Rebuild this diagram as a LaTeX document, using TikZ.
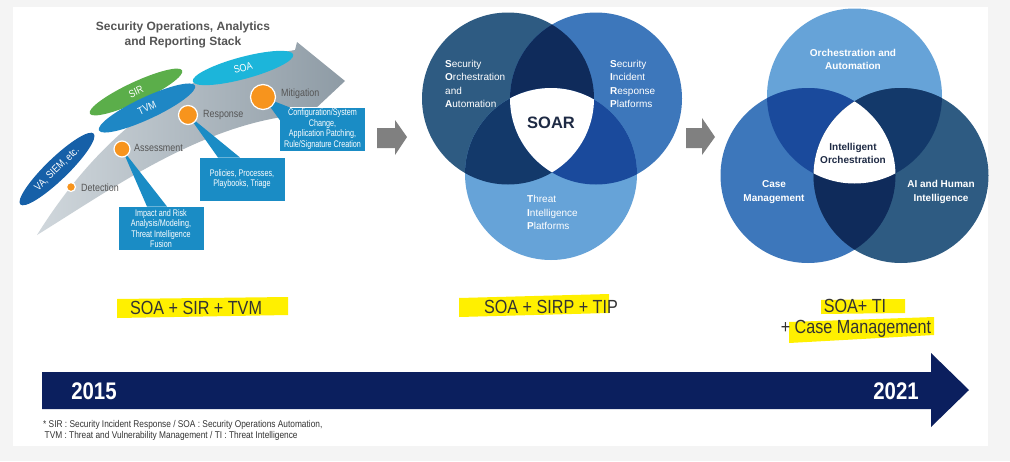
\documentclass[tikz,border=0pt]{standalone}
\usepackage{xcolor}
\usepackage{fontspec}
\usepackage{tikz}
\usetikzlibrary{shapes.geometric,positioning}
\setmainfont{Liberation Sans}
\newfontfamily\narrowfont[FakeStretch=0.85]{Liberation Sans}
\newfontfamily\boxfont[FakeStretch=0.75]{Liberation Sans}
\definecolor{pagegray}{HTML}{F4F4F4}
\definecolor{textgray}{HTML}{555555}
\definecolor{textdark}{HTML}{333333}
\definecolor{soacyan}{HTML}{1CB5DA}
\definecolor{sirgreen}{HTML}{5BAE4A}
\definecolor{tvmblue}{HTML}{1E87C5}
\definecolor{vablue}{HTML}{1660A8}
\definecolor{dotorange}{HTML}{F7941D}
\definecolor{calloutblue}{HTML}{1A8CC5}
\definecolor{arrowlight}{HTML}{D0D7DC}
\definecolor{arrowdark}{HTML}{8E9BA5}
\definecolor{stepgray}{HTML}{808080}
\definecolor{vslate}{HTML}{2E5B82}
\definecolor{vmid}{HTML}{3D77BB}
\definecolor{vlight}{HTML}{66A3D8}
\definecolor{vnavy}{HTML}{0F2B5B}
\definecolor{vdeep}{HTML}{13396A}
\definecolor{vroyal}{HTML}{1A4A9C}
\definecolor{soarnavy}{HTML}{1E2A44}
\definecolor{markyellow}{HTML}{FFF000}
\definecolor{timenavy}{HTML}{0B1F5E}

\begin{document}
\begin{tikzpicture}[x=1pt, y=-1pt,
  tag/.style={ellipse, inner sep=0pt, text=white,
              font=\narrowfont\fontsize{10.5}{12}\selectfont},
  stagedot/.style={circle, fill=dotorange, draw=white, line width=1.2pt,
                   inner sep=0pt},
  stagelabel/.style={anchor=west, inner sep=0pt, text=textgray,
                     font=\narrowfont\fontsize{10.5}{12}\selectfont},
  callout/.style={fill=calloutblue, draw=white, line width=0.6pt,
                  minimum width=86pt, minimum height=44pt, inner sep=0pt,
                  text=white, align=center,
                  font=\boxfont\fontsize{9.6}{10.5}\selectfont},
  pointer/.style={fill=calloutblue},
  stagearrow/.style={fill=stepgray},
  venntext/.style={inner sep=0pt, text=white, align=left,
                   font=\fontsize{10}{13.6}\selectfont},
  vennbold/.style={inner sep=0pt, text=white, align=center,
                   font=\bfseries\fontsize{10}{13.6}\selectfont},
  marker/.style={fill=markyellow},
  combo/.style={inner sep=0pt, text=textdark,
                font=\narrowfont\fontsize{19}{22}\selectfont},
  year/.style={inner sep=0pt, text=white,
               font=\narrowfont\bfseries\fontsize{24}{28}\selectfont},
]
  \useasboundingbox (0,0) rectangle (1010,461);
  \fill[pagegray] (0,0) rectangle (1010,461);
  \fill[white] (13,7) rectangle (988,446);

  % Stack of the first stage.
  \node[inner sep=0pt, align=center, text=textgray,
        font=\bfseries\fontsize{12}{15}\selectfont] (stacktitle) at (183,35)
        {Security Operations, Analytics\\and Reporting Stack};
  \shade[left color=arrowlight, right color=arrowdark]
    (37,235) .. controls (90,150) and (170,70) .. (295,50)
    -- (297,42) -- (345,81) -- (299,124) -- (297,115)
    .. controls (200,125) and (110,190) .. (37,235) -- cycle;
  \node[tag, fill=vablue, minimum width=102pt, minimum height=22pt,
        rotate=44] (va) at (57,169) {VA, SIEM, etc.};
  \node[tag, fill=sirgreen, minimum width=102pt, minimum height=20pt,
        rotate=25] (sir) at (136,92) {SIR};
  \node[tag, fill=tvmblue, minimum width=106pt, minimum height=22pt,
        rotate=25] (tvm) at (147,108) {TVM};
  \node[tag, fill=soacyan, minimum width=104pt, minimum height=22pt,
        rotate=15] (soa) at (243,68) {SOA};

  \node[callout] (assessbox) at (161,228.5)
        {Impact and Risk\\Analysis/Modeling,\\Threat Intelligence\\Fusion};
  \node[callout] (responsebox) at (242,179)
        {Policies, Processes,\\Playbooks, Triage};
  \node[callout] (mitigatebox) at (322.5,129)
        {Configuration/System\\Change,\\Application Patching,\\Rule/Signature Creation};

  \coordinate (detect) at (71,187);
  \coordinate (assess) at (122,149);
  \coordinate (respond) at (188,115);
  \coordinate (mitigate) at (263,97);
  \fill[pointer] (assess) -- (147,206.5) -- (167,206.5) -- cycle;
  \fill[pointer] (respond) -- (218,157.5) -- (240,157.5) -- cycle;
  \fill[pointer] (mitigate) -- (290,107.5) -- (280.5,121) -- cycle;
  \node[stagedot, minimum size=9pt] (detectdot) at (detect) {};
  \node[stagedot, minimum size=16pt] (assessdot) at (assess) {};
  \node[stagedot, minimum size=19pt] (responddot) at (respond) {};
  \node[stagedot, minimum size=25pt] (mitigatedot) at (mitigate) {};
  \node[stagelabel] (detectlabel) at (81,188) {Detection};
  \node[stagelabel] (assesslabel) at (134,148) {Assessment};
  \node[stagelabel] (respondlabel) at (203,115) {Response};
  \node[stagelabel] (mitigatelabel) at (281,94) {Mitigation};

  % Stage arrows.
  \fill[stagearrow] (377,128) -- (395,128) -- (395,120) -- (407,137)
    -- (395,155) -- (395,148) -- (377,148) -- cycle;
  \fill[stagearrow] (686,128) -- (702,128) -- (702,118) -- (715,137)
    -- (702,155) -- (702,148) -- (686,148) -- cycle;

  % SOAR diagram.
  \coordinate (soarL) at (508,98.5);
  \coordinate (soarR) at (596,98.5);
  \coordinate (soarB) at (551,174);
  \fill[vslate] (soarL) circle[radius=86];
  \fill[vmid] (soarR) circle[radius=86];
  \fill[vlight] (soarB) circle[radius=86];
  \begin{scope}
    \clip (soarL) circle[radius=86];
    \fill[vnavy] (soarR) circle[radius=86];
    \fill[vdeep] (soarB) circle[radius=86];
  \end{scope}
  \begin{scope}
    \clip (soarR) circle[radius=86];
    \fill[vroyal] (soarB) circle[radius=86];
  \end{scope}
  \begin{scope}
    \clip (soarL) circle[radius=86];
    \clip (soarR) circle[radius=86];
    \fill[white] (soarB) circle[radius=86];
  \end{scope}
  \node[venntext, anchor=west] (soatext) at (445,84)
        {\textbf{S}ecurity\\\textbf{O}rchestration\\and\\\textbf{A}utomation};
  \node[venntext, anchor=west] (sirptext) at (610,84)
        {\textbf{S}ecurity\\\textbf{I}ncident\\\textbf{R}esponse\\\textbf{P}latforms};
  \node[venntext, anchor=west] (tiptext) at (527,212.5)
        {\textbf{T}hreat\\\textbf{I}ntelligence\\\textbf{P}latforms};
  \node[inner sep=0pt, text=soarnavy, font=\bfseries\fontsize{16.5}{18}\selectfont]
        (soar) at (551,123) {SOAR};

  % Intelligent orchestration diagram.
  \coordinate (ioT) at (854.5,96);
  \coordinate (ioL) at (808,175.5);
  \coordinate (ioR) at (901,175.5);
  \fill[vlight] (ioT) circle[radius=87.5];
  \fill[vmid] (ioL) circle[radius=87.5];
  \fill[vslate] (ioR) circle[radius=87.5];
  \begin{scope}
    \clip (ioT) circle[radius=87.5];
    \fill[vroyal] (ioL) circle[radius=87.5];
    \fill[vdeep] (ioR) circle[radius=87.5];
  \end{scope}
  \begin{scope}
    \clip (ioL) circle[radius=87.5];
    \fill[vnavy] (ioR) circle[radius=87.5];
  \end{scope}
  \begin{scope}
    \clip (ioL) circle[radius=87.5];
    \clip (ioR) circle[radius=87.5];
    \fill[white] (ioT) circle[radius=87.5];
  \end{scope}
  \node[vennbold] (orchtext) at (853,59.5) {Orchestration and\\Automation};
  \node[vennbold, text=soarnavy] (intorch) at (853,153.5)
        {Intelligent\\Orchestration};
  \node[vennbold] (casetext) at (774,192) {Case\\Management};
  \node[vennbold] (aitext) at (941,192) {AI and Human\\Intelligence};

  % Highlighted combinations.
  \fill[marker] (117,299) -- (288,297) -- (288,315) -- (117,318) -- cycle;
  \fill[marker] (459,298) -- (609,294) -- (609,313) -- (459,317) -- cycle;
  \fill[marker] (821,300) -- (905,299) -- (905,313) -- (821,314) -- cycle;
  \fill[marker] (789,322) -- (934,317) -- (934,335) -- (789,343) -- cycle;
  \node[combo] (combo1) at (196,308) {SOA + SIR + TVM};
  \node[combo] (combo2) at (551,307) {SOA + SIRP + TIP};
  \node[combo] (combo3) at (855,306) {SOA+ TI};
  \node[combo] (combo4) at (856,329) {+ Case Management};

  % Timeline.
  \fill[timenavy] (42,372) -- (931,372) -- (931,353) -- (969,390)
    -- (931,427) -- (931,409) -- (42,409) -- cycle;
  \node[year] (start) at (94,391) {2015};
  \node[year] (end) at (896,391) {2021};
  \node[inner sep=0pt, anchor=north west, align=left, text=textdark,
        font=\narrowfont\fontsize{9.8}{11.5}\selectfont] (footnote) at (43,420)
        {* SIR : Security Incident Response / SOA : Security Operations Automation,\\
         \hspace*{1.5pt}TVM : Threat and Vulnerability Management / TI : Threat Intelligence};
\end{tikzpicture}
\end{document}
